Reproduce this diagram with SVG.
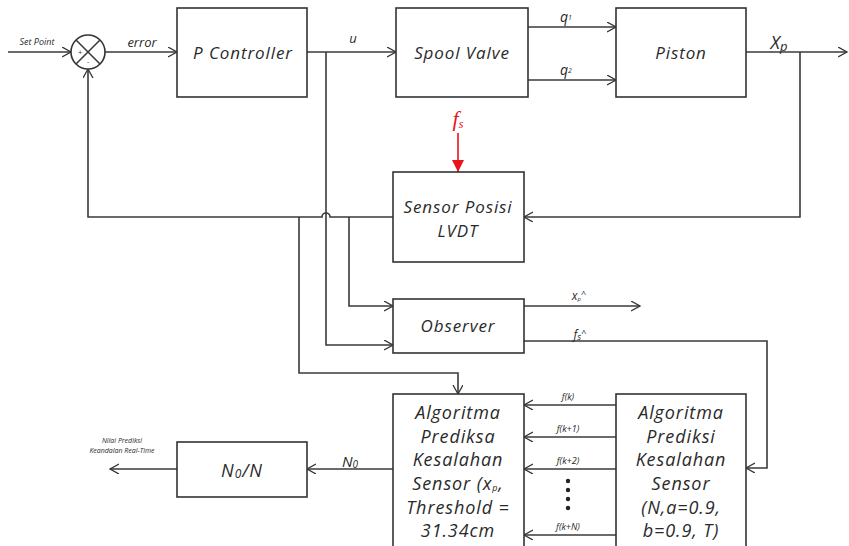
<svg xmlns="http://www.w3.org/2000/svg" width="849" height="546" viewBox="0 0 849 546">
<defs>
<marker id="ah" markerUnits="userSpaceOnUse" markerWidth="12" markerHeight="12" refX="9" refY="5" orient="auto">
<path d="M0,0 L9,5 L0,10" fill="none" stroke="#333" stroke-width="1.3"/>
</marker>
<marker id="red" markerUnits="userSpaceOnUse" markerWidth="14" markerHeight="14" refX="12" refY="6" orient="auto">
<path d="M0,0 L12,6 L0,12 Z" fill="#e8141b"/>
</marker>
<style>
.box{fill:#fff;stroke:#333;stroke-width:1.6}
.ln{fill:none;stroke:#3a3a3a;stroke-width:1.6}
.t{font-family:"Open Sans","Liberation Sans",sans-serif;font-style:italic;fill:#2a2a2a;text-anchor:middle}
.m{font-size:17px;letter-spacing:0.9px}
.a{font-size:18px;letter-spacing:0.9px}
.s{font-size:12px}
.xs{font-size:9px}
</style>
</defs>
<rect width="849" height="546" fill="#fff"/>
<g id="connectors">
<line class="ln" x1="8" y1="52" x2="71" y2="52" marker-end="url(#ah)"/>
<line class="ln" x1="105" y1="52" x2="177" y2="52" marker-end="url(#ah)"/>
<line class="ln" x1="307" y1="52" x2="396" y2="52" marker-end="url(#ah)"/>
<line class="ln" x1="528" y1="27" x2="616" y2="27" marker-end="url(#ah)"/>
<line class="ln" x1="528" y1="80" x2="616" y2="80" marker-end="url(#ah)"/>
<line class="ln" x1="746" y1="52" x2="847" y2="52" marker-end="url(#ah)"/>
<polyline class="ln" points="800,52 800,217 524,217" marker-end="url(#ah)"/>
<path class="ln" d="M393,217 H330 A4,4 0 0 0 322,217 H88 V69" marker-end="url(#ah)"/>
<polyline class="ln" points="326,52 326,345 393,345" marker-end="url(#ah)"/>
<polyline class="ln" points="349,217 349,306 393,306" marker-end="url(#ah)"/>
<polyline class="ln" points="299,217 299,373 458,373 458,394" marker-end="url(#ah)"/>
<line class="ln" x1="524" y1="306" x2="640" y2="306" marker-end="url(#ah)"/>
<polyline class="ln" points="524,341 767,341 767,468 746,468" marker-end="url(#ah)"/>
<line class="ln" x1="616" y1="405" x2="524" y2="405" marker-end="url(#ah)"/>
<line class="ln" x1="616" y1="437" x2="524" y2="437" marker-end="url(#ah)"/>
<line class="ln" x1="616" y1="469" x2="524" y2="469" marker-end="url(#ah)"/>
<line class="ln" x1="616" y1="535" x2="524" y2="535" marker-end="url(#ah)"/>
<line class="ln" x1="393" y1="469" x2="307" y2="469" marker-end="url(#ah)"/>
<line class="ln" x1="177" y1="469" x2="110" y2="469" marker-end="url(#ah)"/>
<line x1="458" y1="133" x2="458" y2="172" stroke="#e8141b" stroke-width="1.6" marker-end="url(#red)"/>
</g>
<g id="sum">
<circle cx="88" cy="52" r="17" fill="#fff" stroke="#333" stroke-width="1.6"/>
<line class="ln" x1="76" y1="40" x2="100" y2="64"/>
<line class="ln" x1="100" y1="40" x2="76" y2="64"/>
<text class="t" x="80" y="55" font-size="7">+</text>
<text class="t" x="88" y="64" font-size="7">-</text>
</g>
<g id="p-controller">
<rect class="box" x="177" y="8" width="130" height="89"/>
<text class="t m" x="243" y="59">P Controller</text>
</g>
<g id="spool-valve">
<rect class="box" x="396" y="8" width="132" height="89"/>
<text class="t m" x="462" y="59">Spool Valve</text>
</g>
<g id="piston">
<rect class="box" x="616" y="8" width="130" height="89"/>
<text class="t m" x="681" y="59">Piston</text>
</g>
<g id="sensor">
<rect class="box" x="393" y="172" width="131" height="90"/>
<text class="t m" x="458" y="213" font-size="16">Sensor Posisi</text>
<text class="t m" x="458" y="237" font-size="16">LVDT</text>
</g>
<g id="observer">
<rect class="box" x="393" y="299" width="131" height="54"/>
<text class="t m" x="458" y="332" font-size="16">Observer</text>
</g>
<g id="algo-left">
<rect class="box" x="393" y="394" width="131" height="160"/>
<text class="t a" x="458" y="419">Algoritma</text>
<text class="t a" x="458" y="443">Prediksa</text>
<text class="t a" x="458" y="466">Kesalahan</text>
<text class="t a" x="458" y="490">Sensor (x<tspan font-size="9" dy="1">p</tspan><tspan dy="-1">,</tspan></text>
<text class="t a" x="458" y="514">Threshold =</text>
<text class="t a" x="458" y="537">31.34cm</text>
</g>
<g id="algo-right">
<rect class="box" x="616" y="394" width="130" height="160"/>
<text class="t a" x="681" y="419">Algoritma</text>
<text class="t a" x="681" y="443">Prediksi</text>
<text class="t a" x="681" y="466">Kesalahan</text>
<text class="t a" x="681" y="490">Sensor</text>
<text class="t a" x="681" y="514">(N,a=0.9,</text>
<text class="t a" x="681" y="537">b=0.9, T)</text>
</g>
<g id="ratio">
<rect class="box" x="177" y="442" width="130" height="55"/>
<text class="t a" x="242" y="477">N<tspan font-size="12" dy="1">0</tspan><tspan dy="-1">/N</tspan></text>
</g>
<g id="labels">
<text class="t xs" x="37" y="45">Set Point</text>
<text class="t" x="142" y="47" font-size="13">error</text>
<text class="t" x="353" y="43" font-size="13">u</text>
<text class="t" x="566" y="22" font-size="14" font-style="normal">q<tspan font-size="7" dy="-2">1</tspan></text>
<text class="t" x="566" y="75" font-size="14" font-style="normal">q<tspan font-size="7" dy="-2">2</tspan></text>
<text class="t" x="779" y="49" font-size="18">X<tspan font-size="13" dy="2">p</tspan></text>
<text x="458" y="126" font-family="'Liberation Serif',serif" font-style="italic" font-size="22" fill="#e8141b" text-anchor="middle">f<tspan font-size="12" dy="2">s</tspan></text>
<text class="t s" x="579" y="300">x<tspan font-size="6" dy="1">p</tspan><tspan dy="-4" font-size="9">^</tspan></text>
<text class="t s" x="580" y="339">f<tspan font-size="9" dy="1">s</tspan><tspan dy="-4" font-size="9">^</tspan></text>
<text class="t xs" x="568" y="400">f(k)</text>
<text class="t xs" x="568" y="432">f(k+1)</text>
<text class="t xs" x="568" y="464">f(k+2)</text>
<text class="t xs" x="568" y="530">f(k+N)</text>
<text class="t" x="350" y="467" font-size="15">N<tspan font-size="10" dy="1">0</tspan></text>
<text class="t" x="122" y="443" font-size="7">Nilai Prediksi</text>
<text class="t" x="122" y="453" font-size="7">Keandalan Real-Time</text>
</g>
<g id="dots" fill="#222">
<circle cx="568" cy="481" r="2.2"/>
<circle cx="568" cy="490" r="2.2"/>
<circle cx="568" cy="499" r="2.2"/>
<circle cx="568" cy="508" r="2.2"/>
</g>
</svg>
